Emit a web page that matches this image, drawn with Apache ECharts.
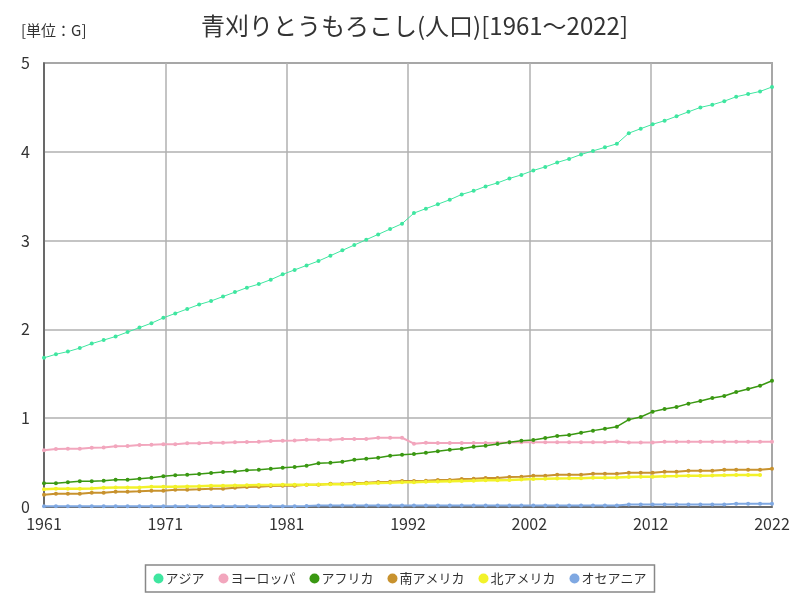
<!DOCTYPE html>
<html>
<head>
<meta charset="utf-8">
<script src="https://cdn.jsdelivr.net/npm/echarts@6/dist/echarts.min.js"></script>
<style>html,body{margin:0;padding:0;background:#fff}#c{width:800px;height:600px}</style>
</head>
<body>
<div id="c"></div>
<script>
const years = [];
for (let y = 1961; y <= 2022; y++) years.push(y);

const seriesNames = ['アジア','ヨーロッパ','アフリカ','南アメリカ','北アメリカ','オセアニア'];

const asia = [1.68,1.72,1.75,1.79,1.84,1.88,1.92,1.97,2.02,2.07,2.13,2.18,2.23,2.28,2.32,2.37,2.42,2.47,2.51,2.56,2.62,2.67,2.72,2.77,2.83,2.89,2.95,3.01,3.07,3.13,3.19,3.31,3.36,3.41,3.46,3.52,3.56,3.61,3.65,3.70,3.74,3.79,3.83,3.88,3.92,3.97,4.01,4.05,4.09,4.21,4.26,4.31,4.35,4.40,4.45,4.50,4.53,4.57,4.62,4.65,4.68,4.73];
const europe = [0.64,0.653,0.657,0.657,0.668,0.67,0.683,0.687,0.698,0.70,0.706,0.706,0.717,0.717,0.724,0.724,0.728,0.732,0.736,0.743,0.747,0.75,0.758,0.758,0.758,0.766,0.766,0.766,0.78,0.78,0.78,0.713,0.724,0.722,0.722,0.722,0.722,0.722,0.724,0.726,0.728,0.728,0.728,0.728,0.728,0.728,0.728,0.728,0.738,0.726,0.726,0.726,0.736,0.736,0.736,0.736,0.736,0.736,0.736,0.736,0.736,0.736];
const africa = [0.267,0.267,0.278,0.289,0.289,0.296,0.307,0.307,0.319,0.33,0.345,0.357,0.364,0.372,0.383,0.394,0.401,0.413,0.42,0.431,0.443,0.45,0.465,0.492,0.499,0.51,0.533,0.544,0.555,0.578,0.589,0.597,0.611,0.627,0.645,0.657,0.679,0.69,0.709,0.728,0.747,0.755,0.777,0.80,0.811,0.837,0.86,0.882,0.905,0.984,1.014,1.074,1.104,1.126,1.164,1.194,1.227,1.25,1.295,1.329,1.366,1.422];
const southAmerica = [0.139,0.15,0.15,0.15,0.161,0.161,0.172,0.172,0.176,0.184,0.184,0.195,0.195,0.199,0.206,0.206,0.217,0.225,0.229,0.236,0.24,0.24,0.251,0.251,0.262,0.262,0.27,0.274,0.281,0.285,0.293,0.293,0.296,0.304,0.304,0.315,0.319,0.327,0.327,0.338,0.341,0.353,0.353,0.364,0.364,0.364,0.375,0.375,0.375,0.386,0.386,0.386,0.398,0.398,0.409,0.409,0.409,0.42,0.42,0.42,0.42,0.431];
const northAmerica = [0.199,0.206,0.206,0.206,0.208,0.217,0.219,0.219,0.221,0.229,0.229,0.229,0.231,0.233,0.24,0.24,0.242,0.244,0.247,0.247,0.251,0.25,0.25,0.252,0.255,0.256,0.26,0.265,0.27,0.273,0.278,0.28,0.283,0.286,0.29,0.293,0.296,0.30,0.30,0.303,0.31,0.315,0.317,0.322,0.323,0.325,0.328,0.33,0.332,0.338,0.34,0.342,0.345,0.348,0.352,0.353,0.354,0.357,0.36,0.36,0.36,null];
const oceania = [0.008,0.008,0.008,0.008,0.008,0.008,0.008,0.008,0.008,0.008,0.008,0.008,0.008,0.008,0.008,0.008,0.008,0.008,0.008,0.008,0.008,0.008,0.012,0.018,0.018,0.018,0.018,0.018,0.018,0.018,0.018,0.018,0.018,0.018,0.018,0.018,0.018,0.018,0.018,0.018,0.018,0.018,0.018,0.018,0.018,0.018,0.018,0.018,0.018,0.028,0.028,0.028,0.028,0.028,0.028,0.028,0.028,0.028,0.038,0.038,0.038,0.038];

const yTicks = [0,1,2,3,4,5];

// x axis in sixths of a year so that the 6 equal divisions fall on integer ticks
const X_SCALE = 6;
const firstYear = years[0], lastYear = years[years.length - 1];
function toData(arr) { return arr.map((v, i) => [(years[i] - firstYear) * X_SCALE, v]); }

const colors = ['#3fe6a0','#f2a6bd','#3a9812','#c8922e','#f2f22a','#7fa8e2'];
const allData = [asia, europe, africa, southAmerica, northAmerica, oceania];
const widths = [1, 2, 1.5, 2, 2.5, 2];

const chart = echarts.init(document.getElementById('c'), null, {renderer: 'canvas'});
chart.setOption({
  animation: false,
  color: colors,
  title: [
    { text: '青刈りとうもろこし(人口)[1961～2022]', left: 196, top: 9,
      textStyle: { fontFamily: 'Noto Sans CJK JP', fontSize: 24, fontWeight: 'normal', color: '#333' } },
    { text: '[単位：G]', left: 16, top: 18,
      textStyle: { fontFamily: 'Noto Sans CJK JP', fontSize: 15, fontWeight: 'normal', color: '#333' } }
  ],
  grid: { left: 44, right: 28, top: 63, bottom: 93, show: true, borderColor: '#666', borderWidth: 1.5 },
  legend: {
    bottom: 8, left: 'center', icon: 'circle', itemWidth: 10, itemHeight: 10, itemGap: 14,
    borderColor: '#888', borderWidth: 1.5, padding: [7, 8],
    textStyle: { fontFamily: 'Noto Sans CJK JP', fontSize: 13, color: '#333', padding: [0, 0, 0, -3] },
    data: seriesNames
  },
  xAxis: {
    type: 'value', min: 0, max: (lastYear - firstYear) * X_SCALE, interval: (lastYear - firstYear),
    axisLine: { show: true, lineStyle: { color: '#555', width: 1.5 } },
    axisTick: { show: false },
    splitLine: { show: true, lineStyle: { color: '#b0b0b0', width: 1.5 } },
    axisLabel: { fontFamily: 'Noto Sans CJK JP', fontSize: 16, color: '#333', margin: 9,
      formatter: v => String(Math.round(firstYear + v / X_SCALE)) }
  },
  yAxis: {
    type: 'value', min: yTicks[0], max: yTicks[yTicks.length - 1], interval: 1,
    axisLine: { show: true, lineStyle: { color: '#555', width: 1.5 } },
    axisTick: { show: false },
    splitLine: { show: true, lineStyle: { color: '#b0b0b0', width: 1.5 } },
    axisLabel: { fontFamily: 'Noto Sans CJK JP', fontSize: 16, color: '#333', margin: 14 }
  },
  series: seriesNames.map((name, k) => ({
    name, type: 'line', data: toData(allData[k]),
    symbol: 'circle', symbolSize: 4, showSymbol: true,
    lineStyle: { width: widths[k], color: colors[k] },
    itemStyle: { color: colors[k] },
    connectNulls: false
  }))
});
</script>
</body>
</html>
